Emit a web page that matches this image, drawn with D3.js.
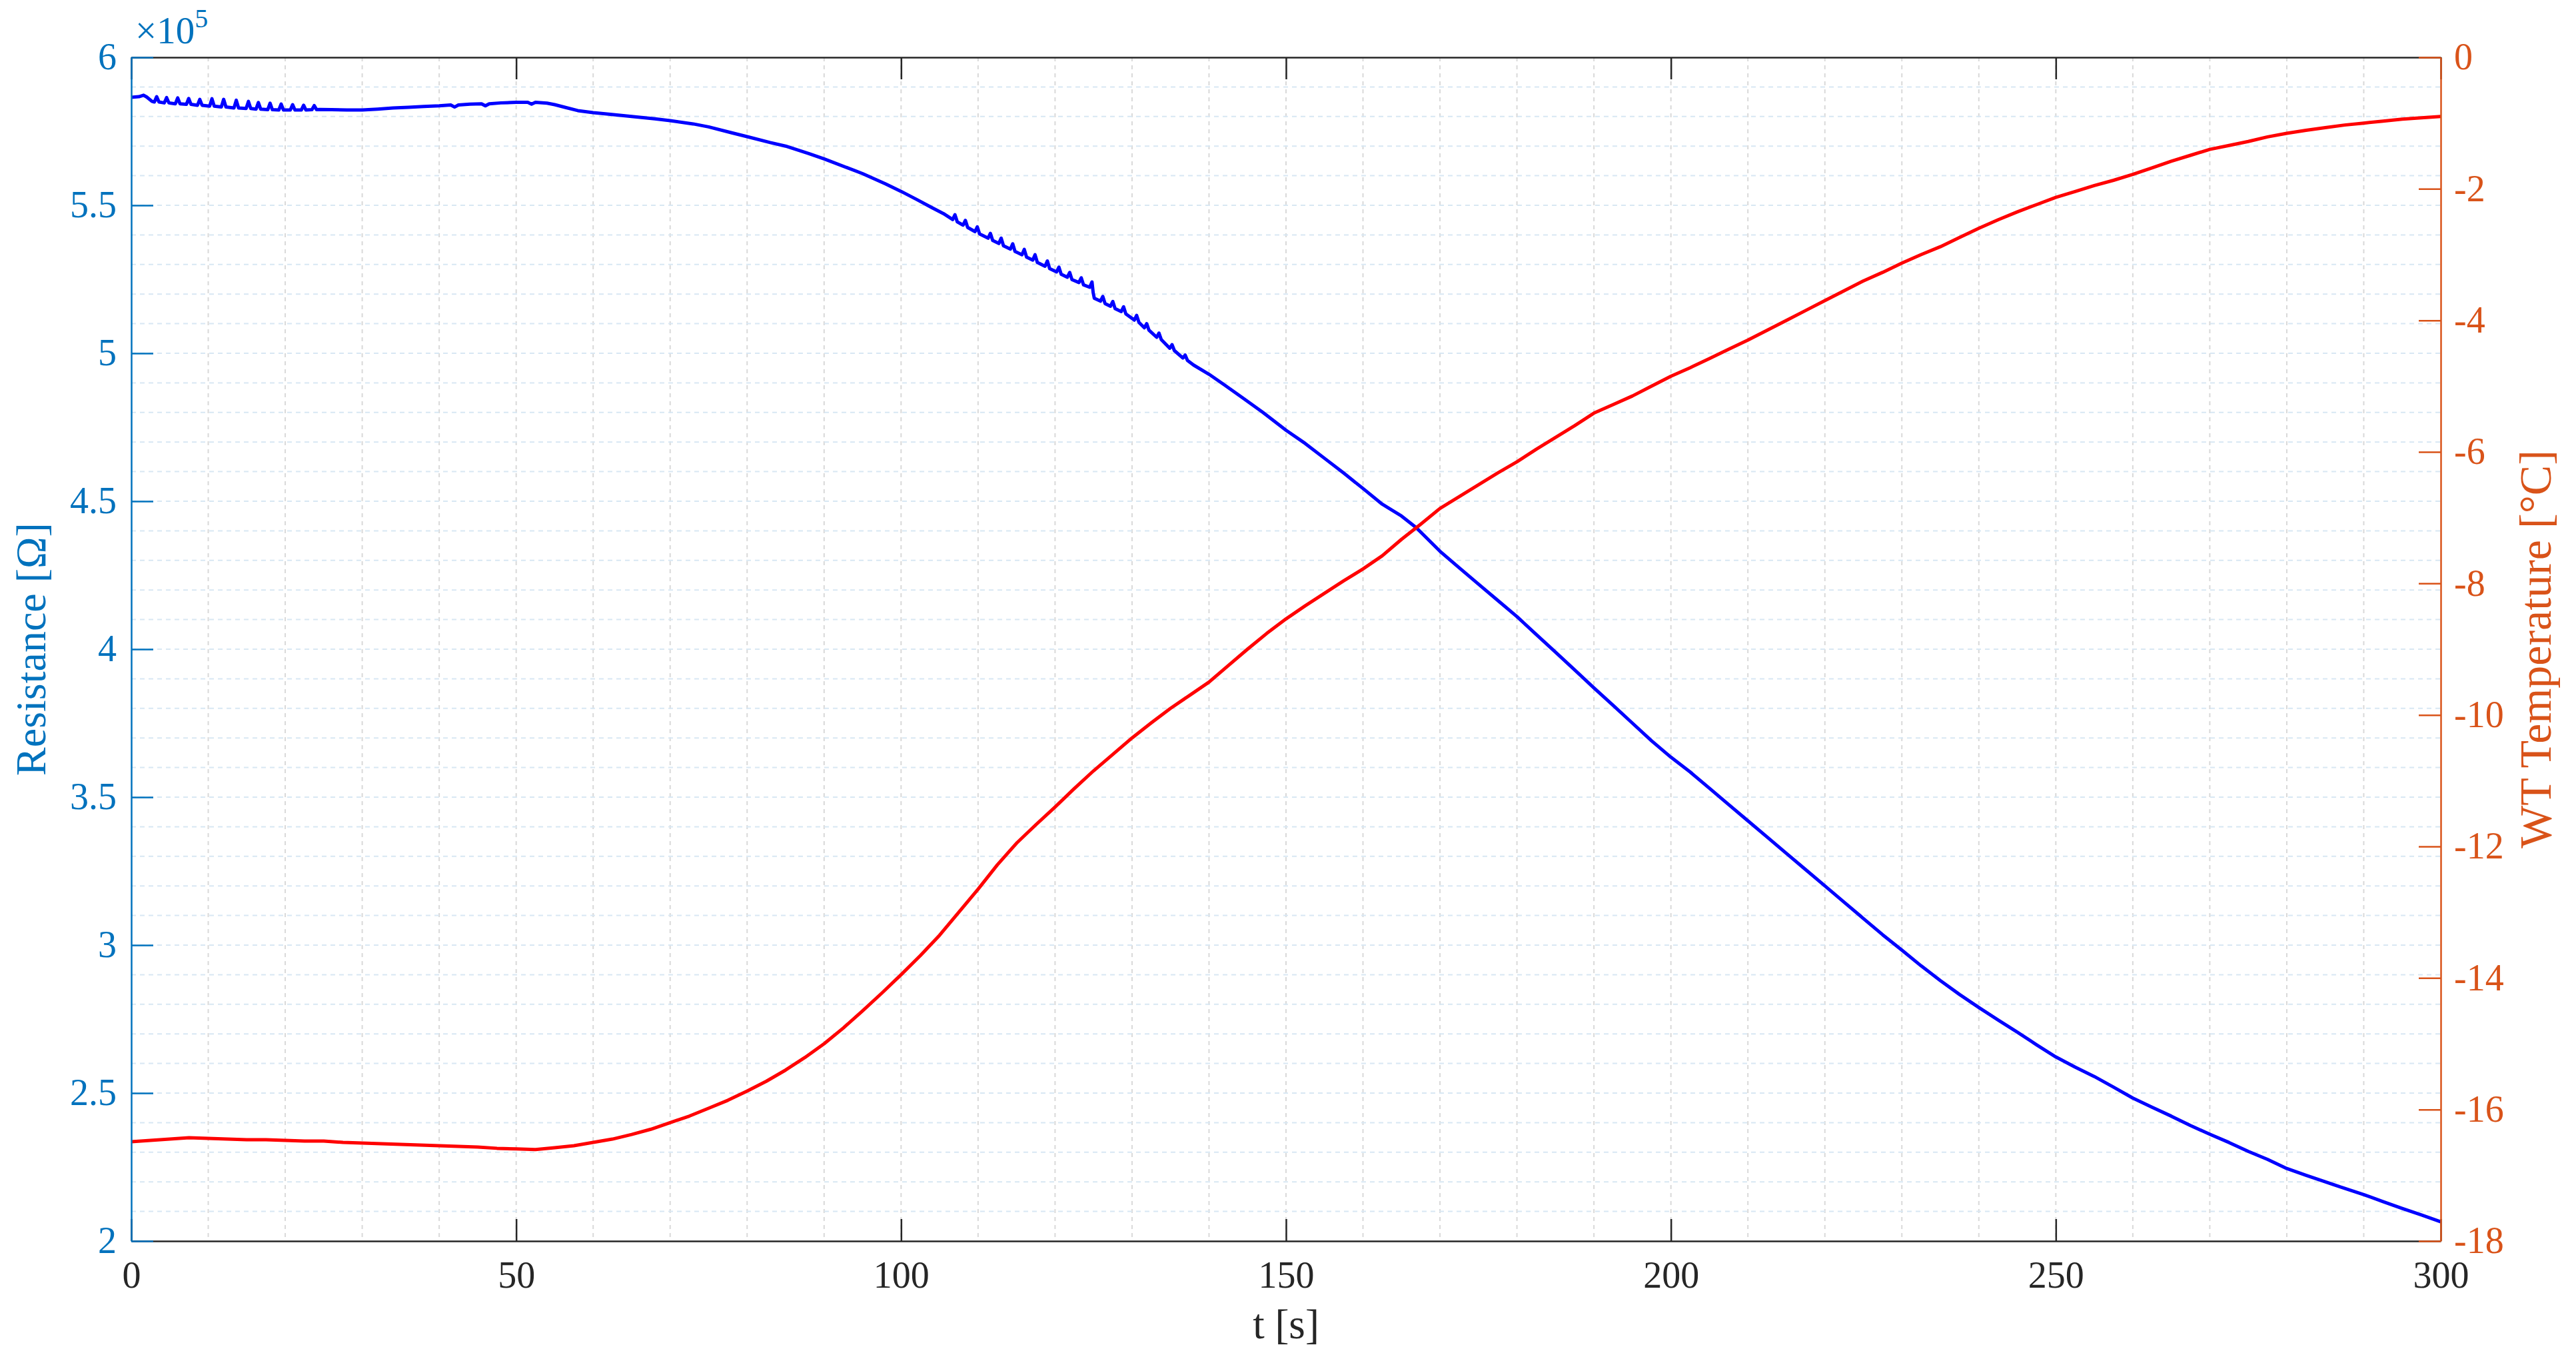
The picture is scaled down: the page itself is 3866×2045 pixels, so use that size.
<!DOCTYPE html>
<html>
<head>
<meta charset="utf-8">
<script src="https://cdn.jsdelivr.net/npm/d3@7"></script>
<style>
  html, body { margin: 0; padding: 0; background: #fff; }
  svg { display: block; }
  text { font-family: "Liberation Serif", "Times New Roman", serif; }
</style>
</head>
<body>
<svg id="chart" width="3866" height="2045"></svg>
<script>
// ---------------- DATA ----------------
// x ticks (time, s)
const xTickValues = [0, 50, 100, 150, 200, 250, 300];
const xTickLabels = ["0", "50", "100", "150", "200", "250", "300"];
// left axis ticks (resistance, in units of 1e5 Ohm)
const leftTickValues = [2, 2.5, 3, 3.5, 4, 4.5, 5, 5.5, 6];
const leftTickLabels = ["2", "2.5", "3", "3.5", "4", "4.5", "5", "5.5", "6"];
// right axis ticks (temperature, degC)
const rightTickValues = [0, -2, -4, -6, -8, -10, -12, -14, -16, -18];
const rightTickLabels = ["0", "-2", "-4", "-6", "-8", "-10", "-12", "-14", "-16", "-18"];

// Resistance series: time [s]
const resTime = [
  0, 1.0, 1.6, 2.0, 2.7,
  3.0, 3.3, 3.6, 4.29, 4.59, 4.89, 5.73, 6.03, 6.33, 7.16, 7.46, 7.76,
  8.6, 8.9, 9.2, 10.18, 10.48, 10.78, 11.7, 12.0, 12.3, 13.34, 13.64, 13.94,
  14.92, 15.22, 15.52, 16.21, 16.51, 16.81, 17.73, 18.03, 18.33, 19.17, 19.47, 19.77,
  20.66, 20.96, 21.26, 22.09, 22.39, 22.69, 23.47, 23.77, 24.07,
  24.5, 26, 28, 30, 32, 34, 36, 38, 40, 41.5, 42, 42.5, 44, 45.5, 46, 46.5, 48, 50,
  51.5, 52, 52.5, 54, 55, 56.5, 58, 60, 62, 65, 68, 70, 73, 75, 78, 80, 83, 85, 88,
  90, 93, 95, 98, 100, 102, 104, 105.5,
  106.7, 107.0, 107.3, 108.05, 108.35, 108.65, 109.6, 109.9, 110.2,
  111.3, 111.6, 111.9, 112.7, 113.0, 113.3, 114.2, 114.5, 114.8,
  115.7, 116.0, 116.3, 117.1, 117.4, 117.7, 118.7, 119.0, 119.3,
  120.2, 120.5, 120.8, 121.6, 121.9, 122.2, 123.1, 123.4, 123.7,
  124.5, 124.8, 124.95, 125.1,
  125.9, 126.2, 126.5, 127.2, 127.5, 127.8, 128.6, 128.9, 129.2,
  130.3, 130.6, 130.9, 131.6, 131.9, 132.2, 133.2, 133.5, 133.8,
  134.9, 135.2, 135.5, 136.6, 136.9, 137.2,
  138, 140, 142, 144.5, 147, 150, 152.5, 155, 157.5, 160, 162.5, 165, 166.9,
  170, 172.5, 175, 177.5, 180, 182.5, 185, 187.5, 190, 192.5, 195, 197.5, 200,
  202.5, 205, 207.5, 210, 212.5, 215, 217.5, 220, 222.5, 225, 227.5, 230, 232.5,
  235, 237.5, 240, 242.5, 245, 247.5, 250, 252.5, 255, 257.5, 260, 262.5, 265,
  267.5, 270, 272.5, 275, 277.5, 280, 282.5, 285, 287.5, 290, 292.5, 295, 297.5, 300
];
// Resistance series: value [x 1e5 Ohm]
const resValue = [
  5.865, 5.867, 5.872, 5.866, 5.851,
  5.849, 5.867, 5.849, 5.846, 5.864, 5.846, 5.843, 5.863, 5.843, 5.841, 5.861, 5.841,
  5.838, 5.858, 5.838, 5.835, 5.860, 5.835, 5.832, 5.858, 5.832, 5.829, 5.855, 5.829,
  5.827, 5.851, 5.827, 5.825, 5.847, 5.825, 5.823, 5.845, 5.823, 5.822, 5.842, 5.822,
  5.822, 5.840, 5.822, 5.822, 5.838, 5.822, 5.823, 5.837, 5.823,
  5.824, 5.823, 5.822, 5.822, 5.825, 5.829, 5.831, 5.834, 5.836, 5.839, 5.832, 5.839, 5.842, 5.843, 5.836, 5.843, 5.846, 5.848,
  5.848, 5.842, 5.848, 5.845, 5.840, 5.830, 5.820, 5.813, 5.808, 5.800, 5.792, 5.786, 5.775, 5.765, 5.745, 5.732, 5.712, 5.700, 5.675,
  5.657, 5.627, 5.607, 5.572, 5.547, 5.520, 5.492, 5.472,
  5.452, 5.468, 5.444, 5.433, 5.449, 5.425, 5.411, 5.427, 5.403,
  5.389, 5.405, 5.381, 5.371, 5.389, 5.363, 5.352, 5.370, 5.344,
  5.333, 5.351, 5.325, 5.315, 5.333, 5.307, 5.294, 5.312, 5.286,
  5.275, 5.291, 5.267, 5.257, 5.273, 5.249, 5.239, 5.255, 5.231,
  5.223, 5.241, 5.205, 5.186,
  5.176, 5.192, 5.168, 5.159, 5.175, 5.151, 5.141, 5.157, 5.133,
  5.112, 5.128, 5.104, 5.086, 5.100, 5.078, 5.054, 5.068, 5.046,
  5.017, 5.029, 5.009, 4.984, 4.994, 4.976,
  4.960, 4.929, 4.893, 4.847, 4.800, 4.740, 4.695, 4.645, 4.595, 4.543, 4.490, 4.450, 4.411,
  4.331, 4.275, 4.220, 4.165, 4.110, 4.050, 3.990, 3.930, 3.869, 3.810, 3.750, 3.690, 3.635,
  3.585, 3.530, 3.475, 3.420, 3.365, 3.310, 3.255, 3.200, 3.145, 3.090, 3.035, 2.983, 2.930,
  2.880, 2.833, 2.789, 2.747, 2.706, 2.663, 2.622, 2.588, 2.556, 2.520, 2.483, 2.452, 2.422,
  2.390, 2.361, 2.333, 2.303, 2.276, 2.245, 2.222, 2.200, 2.178, 2.157, 2.133, 2.110, 2.088, 2.065
];

// Temperature series: time [s]
const tempTime = [
  0, 2.5, 5, 7.5, 10, 12.5, 15, 17.5, 20, 22.5, 25, 27.5, 30, 32.5, 35, 37.5, 40, 42.5, 45, 47.5,
  50, 52.5, 55, 57.5, 60, 62.5, 65, 67.5, 70, 72.5, 75, 77.5, 80, 82.5, 85, 87.5, 90, 92.5, 95, 97.5,
  100, 102.5, 105, 107.5, 110, 112.5, 115, 117.5, 120, 122.5, 125, 127.5, 130, 132.5, 135, 137.5, 140, 142.5, 145, 147.5,
  150, 152.5, 155, 157.5, 160, 162.5, 165, 167.5, 170, 172.5, 175, 177.5, 180, 182.5, 185, 187.5, 190, 192.5, 195, 197.5,
  200, 202.5, 205, 207.5, 210, 212.5, 215, 217.5, 220, 222.5, 225, 227.5, 230, 232.5, 235, 237.5, 240, 242.5, 245, 247.5,
  250, 252.5, 255, 257.5, 260, 262.5, 265, 267.5, 270, 272.5, 275, 277.5, 280, 282.5, 285, 287.5, 290, 292.5, 295, 297.5, 300
];
// Temperature series: value [degC]
const tempValue = [
  -16.49, -16.47, -16.45, -16.43, -16.44, -16.45, -16.46, -16.46, -16.47, -16.48, -16.48, -16.50, -16.51, -16.52, -16.53, -16.54, -16.55, -16.56, -16.57, -16.59,
  -16.60, -16.61, -16.58, -16.55, -16.50, -16.45, -16.38, -16.30, -16.20, -16.10, -15.98, -15.86, -15.72, -15.57, -15.40, -15.21, -15.00, -14.76, -14.50, -14.23,
  -13.95, -13.66, -13.35, -13.00, -12.65, -12.28, -11.95, -11.67, -11.40, -11.12, -10.85, -10.60, -10.35, -10.12, -9.90, -9.70, -9.50, -9.25, -9.00, -8.76,
  -8.54, -8.34, -8.15, -7.96, -7.78, -7.58, -7.33, -7.10, -6.86, -6.68, -6.50, -6.32, -6.15, -5.96, -5.78, -5.60, -5.41, -5.28, -5.15, -5.00,
  -4.85, -4.72, -4.58, -4.44, -4.30, -4.15, -4.00, -3.85, -3.70, -3.55, -3.40, -3.27, -3.13, -3.00, -2.88, -2.74, -2.60, -2.47, -2.35, -2.24,
  -2.13, -2.04, -1.95, -1.87, -1.78, -1.68, -1.58, -1.49, -1.40, -1.34, -1.28, -1.21, -1.155, -1.11, -1.07, -1.03, -1.00, -0.97, -0.94, -0.92, -0.90
];

// ---------------- CHART ----------------
const BLUE_AX = "#0072BD", ORANGE_AX = "#D95319", DARK = "#262626";
const L = 197, R = 3663, T = 86, B = 1862;
const svg = d3.select("#chart");

const x = d3.scaleLinear().domain([0, 300]).range([L, R]);
const yL = d3.scaleLinear().domain([2, 6]).range([B, T]);
const yR = d3.scaleLinear().domain([-18, 0]).range([B, T]);

// grid
const grid = svg.append("g");
grid.selectAll("line.v").data(d3.range(10, 300, 10)).join("line")
  .attr("x1", d => x(d)).attr("x2", d => x(d))
  .attr("y1", T).attr("y2", B)
  .attr("stroke", "#d9d9d9").attr("stroke-width", 2).attr("stroke-dasharray", "6,6");
grid.selectAll("line.h").data(d3.range(21, 60, 1).map(d => d / 10)).join("line")
  .attr("x1", L).attr("x2", R)
  .attr("y1", d => yL(d)).attr("y2", d => yL(d))
  .attr("stroke", "#d8e7f3").attr("stroke-width", 2).attr("stroke-dasharray", "7,6");

// lines
const resData = resTime.map((t, i) => [t, resValue[i]]);
const tempData = tempTime.map((t, i) => [t, tempValue[i]]);
svg.append("path").datum(resData)
  .attr("fill", "none").attr("stroke", "#0000FF").attr("stroke-width", 5)
  .attr("stroke-linejoin", "round")
  .attr("d", d3.line().x(d => x(d[0])).y(d => yL(d[1])));
svg.append("path").datum(tempData)
  .attr("fill", "none").attr("stroke", "#FF0000").attr("stroke-width", 5)
  .attr("stroke-linejoin", "round")
  .attr("d", d3.line().x(d => x(d[0])).y(d => yR(d[1])));

// axes
function styleAxis(g, color, size) {
  g.select(".domain").attr("stroke", color).attr("stroke-width", 2.5);
  g.selectAll(".tick line").attr("stroke", color).attr("stroke-width", 2.5);
  g.selectAll(".tick text").attr("fill", color).attr("font-size", size)
    .attr("font-family", '"Liberation Serif", "Times New Roman", serif');
}
const gTop = svg.append("g").attr("transform", `translate(0,${T})`)
  .call(d3.axisTop(x).tickValues(xTickValues).tickFormat("").tickSize(-33).tickSizeOuter(0));
styleAxis(gTop, DARK, 56);
const gBottom = svg.append("g").attr("transform", `translate(0,${B})`)
  .call(d3.axisBottom(x).tickValues(xTickValues).tickFormat((d, i) => xTickLabels[i])
    .tickSize(-33).tickSizeOuter(0).tickPadding(30));
styleAxis(gBottom, DARK, 56);
const gLeft = svg.append("g").attr("transform", `translate(${L},0)`)
  .call(d3.axisLeft(yL).tickValues(leftTickValues).tickFormat((d, i) => leftTickLabels[i])
    .tickSize(-33).tickSizeOuter(0).tickPadding(22));
styleAxis(gLeft, BLUE_AX, 56);
const gRight = svg.append("g").attr("transform", `translate(${R},0)`)
  .call(d3.axisRight(yR).tickValues(rightTickValues).tickFormat((d, i) => rightTickLabels[i])
    .tickSize(-33).tickSizeOuter(0).tickPadding(20));
styleAxis(gRight, ORANGE_AX, 56);

// exponent label
const ex = svg.append("text").attr("x", 203).attr("y", 65).attr("fill", BLUE_AX).attr("font-size", 57);
ex.append("tspan").text("×10");
ex.append("tspan").attr("font-size", 40).attr("dy", -24).text("5");

// axis titles
svg.append("text").attr("x", (L + R) / 2).attr("y", 2008)
  .attr("text-anchor", "middle").attr("fill", DARK).attr("font-size", 63).text("t [s]");
svg.append("text").attr("transform", `translate(68,${(T + B) / 2}) rotate(-90)`)
  .attr("text-anchor", "middle").attr("fill", BLUE_AX).attr("font-size", 64).text("Resistance [Ω]");
svg.append("text").attr("transform", `translate(3828,${(T + B) / 2}) rotate(-90)`)
  .attr("text-anchor", "middle").attr("fill", ORANGE_AX).attr("font-size", 68).text("WT Temperature [°C]");
</script>
</body>
</html>
